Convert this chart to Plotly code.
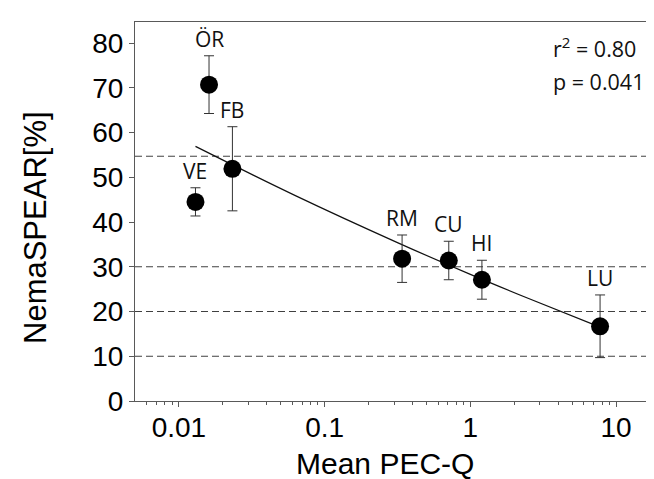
import numpy as np
import plotly.graph_objects as go

# ---- data ----
sites = ["ÖR", "FB", "VE", "RM", "CU", "HI", "LU"]
pec_q = [0.0161, 0.0233, 0.0130, 0.340, 0.711, 1.20, 7.76]
nemaspear = [70.7, 51.9, 44.5, 31.8, 31.4, 27.1, 16.7]
err = [6.45, 9.4, 3.15, 5.3, 4.3, 4.35, 7.0]

# fitted curve
fit_x = [0.0130, 0.063, 0.316, 1.0, 2.51, 7.76]
fit_y = [56.9, 45.9, 35.4, 28.3, 22.9, 16.5]

thresholds = [54.7, 30, 20, 10]

x_ticks = [0.01, 0.1, 1, 10]
x_ticktext = ["0.01", "0.1", "1", "10"]
y_ticks = [0, 10, 20, 30, 40, 50, 60, 70, 80]

stats_text = ["r<sup>2</sup> = 0.80", "p = 0.041"]

AX = "#595959"
ARIAL = "Liberation Sans, Arial, sans-serif"
LABF = "Open Sans, Noto Sans, sans-serif"

fig = go.Figure()

fig.add_trace(go.Scatter(
    x=fit_x, y=fit_y, mode="lines",
    line=dict(color="#111111", width=1.2, shape="spline", smoothing=1.0),
    hoverinfo="skip", showlegend=False))

fig.add_trace(go.Scatter(
    x=pec_q, y=nemaspear, mode="markers",
    marker=dict(color="#000000", size=18, line=dict(width=0)),
    error_y=dict(type="data", array=err, visible=True,
                 color="#333333", thickness=1, width=5),
    showlegend=False))

for v in thresholds:
    fig.add_shape(type="line", xref="paper", x0=0, x1=1, yref="y", y0=v, y1=v,
                  line=dict(color="#404040", width=1, dash="7px,4px"), layer="below")

for s, xv, yv, e in zip(sites, pec_q, nemaspear, err):
    fig.add_annotation(x=np.log10(xv), y=yv + e, xref="x", yref="y", text=s,
                       showarrow=False, xanchor="center", yanchor="bottom", yshift=1,
                       font=dict(family=LABF, size=21, color="#111111"))

# stats text
fig.add_annotation(x=0.793, y=(393 - 40) / 379, xref="paper", yref="paper",
                   text=stats_text[0], showarrow=False, xanchor="left", yanchor="middle",
                   font=dict(family=LABF, size=21.5, color="#111111"))
fig.add_annotation(x=0.793, y=(393 - 73) / 379, xref="paper", yref="paper",
                   text=stats_text[1], showarrow=False, xanchor="left", yanchor="middle",
                   font=dict(family=LABF, size=21.5, color="#111111"))

# axis titles
fig.add_annotation(x=(27 - 127) / 525, y=(393 - 220) / 379, xref="paper", yref="paper",
                   text="NemaSPEAR[%]", textangle=-90, showarrow=False,
                   xanchor="center", yanchor="middle",
                   font=dict(family=ARIAL, size=31, color="#000000"))
fig.add_annotation(x=(377 - 127) / 525, y=(393 - 455) / 379, xref="paper", yref="paper",
                   text="Mean PEC-Q", showarrow=False,
                   xanchor="center", yanchor="middle",
                   font=dict(family=ARIAL, size=30, color="#000000"))

minor_vals = [k * 10.0 ** e for e in range(-3, 2) for k in range(2, 10)
              if 0.005 < k * 10.0 ** e < 20]

fig.update_layout(
    width=654, height=479,
    margin=dict(l=127, r=2, t=14, b=86),
    paper_bgcolor="white", plot_bgcolor="white",
    xaxis=dict(type="log", range=[np.log10(0.005), np.log10(20)],
               tickvals=x_ticks, ticktext=x_ticktext,
               ticks="outside", ticklen=5, tickcolor=AX, tickwidth=1,
               ticklabelstandoff=-4,
               showline=True, linecolor=AX, linewidth=1, mirror=True,
               showgrid=False, zeroline=False,
               tickfont=dict(family=ARIAL, size=28, color="#000000"),
               minor=dict(tickvals=minor_vals, ticks="outside", ticklen=3,
                          tickcolor=AX, showgrid=False)),
    yaxis=dict(range=[0, 84.7], tickvals=y_ticks,
               ticks="outside", ticklen=5, tickcolor=AX, tickwidth=1,
               showline=True, linecolor=AX, linewidth=1, mirror=True,
               showgrid=False, zeroline=False,
               tickfont=dict(family=ARIAL, size=28, color="#000000")),
)

fig.write_html("out.html")
